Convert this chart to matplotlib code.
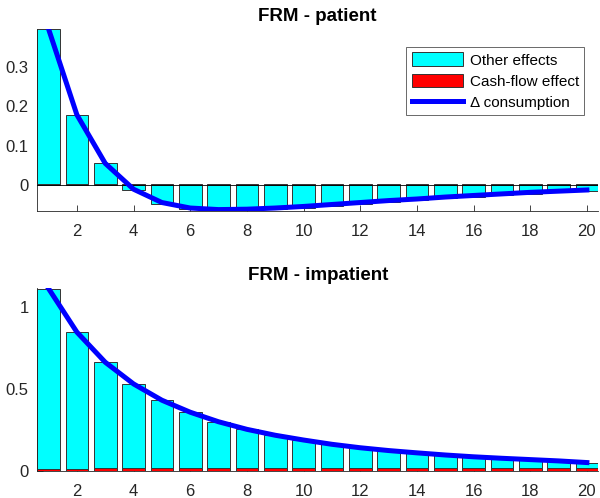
import numpy as np
import matplotlib.pyplot as plt

plt.rcParams['font.family'] = ['Liberation Sans', 'DejaVu Sans']

periods = np.arange(1, 21)

# FRM - patient
patient_other = [0.395, 0.176, 0.052, -0.014, -0.048, -0.062, -0.066, -0.065, -0.062, -0.058,
                 -0.053, -0.048, -0.043, -0.039, -0.034, -0.030, -0.026, -0.022, -0.019, -0.016]
patient_cash = [0.003] * 20

# FRM - impatient
impatient_total = [1.11, 0.845, 0.662, 0.530, 0.431, 0.358, 0.300, 0.254, 0.218, 0.189,
                   0.163, 0.142, 0.125, 0.111, 0.098, 0.087, 0.078, 0.070, 0.062, 0.052]
impatient_cash = [0.015, 0.015, 0.016, 0.016, 0.016, 0.017, 0.017, 0.017, 0.018, 0.018,
                  0.018, 0.019, 0.019, 0.019, 0.020, 0.020, 0.020, 0.021, 0.021, 0.021]
impatient_other = list(np.array(impatient_total) - np.array(impatient_cash))

titles = ["FRM - patient", "FRM - impatient"]
yticks = [[0, 0.1, 0.2, 0.3], [0, 0.5, 1]]
ylims = [(-0.067, 0.398), (0, 1.114)]

fig = plt.figure(figsize=(6, 4.98), dpi=100)
axes = [fig.add_axes([0.062, 0.576, 0.935, 0.366]),
        fig.add_axes([0.062, 0.054, 0.935, 0.368])]

data = [(patient_other, patient_cash), (impatient_other, impatient_cash)]
grey = "#262626"

for k, ax in enumerate(axes):
    other = np.array(data[k][0])
    cash = np.array(data[k][1])
    total = other + cash
    b_cash = ax.bar(periods, cash, width=0.8, color="red", edgecolor="#333333", linewidth=0.7,
                    zorder=2)
    bottom = np.where(other >= 0, cash, 0)
    b_other = ax.bar(periods, other, width=0.8, bottom=bottom, color="cyan", edgecolor="#333333",
                     linewidth=0.7, zorder=2)
    ax.axhline(0, color="black", linewidth=0.6, zorder=3)
    ln, = ax.plot(periods, total, color="blue", linewidth=3.6, zorder=4)

    ax.set_xlim(0.6, 20.4)
    ax.set_ylim(*ylims[k])
    ax.set_xticks(np.arange(2, 21, 2))
    ax.set_yticks(yticks[k])
    ax.set_yticklabels([("%g" % v) for v in yticks[k]])
    ax.tick_params(direction="in", length=4, width=0.6, colors=grey, labelsize=12)
    ax.tick_params(axis="x", pad=9.5)
    ax.tick_params(axis="y", pad=6)
    for s in ["top", "right"]:
        ax.spines[s].set_visible(False)
    for s in ["left", "bottom"]:
        ax.spines[s].set_color(grey)
        ax.spines[s].set_linewidth(0.6)
    ax.set_title(titles[k], fontsize=13.5, fontweight="bold", pad=6)

    if k == 0:
        leg = ax.legend([b_other, b_cash, ln],
                        ["Other effects", "Cash-flow effect", "\u0394 consumption"],
                        loc="upper right", bbox_to_anchor=(0.975, 0.90), fontsize=11,
                        frameon=True, fancybox=False, handlelength=3.4, handleheight=1.0,
                        borderpad=0.35, labelspacing=0.4, handletextpad=0.4, borderaxespad=0)
        leg.get_frame().set_edgecolor(grey)
        leg.get_frame().set_linewidth(0.6)

fig.savefig("out.png", dpi=100)
